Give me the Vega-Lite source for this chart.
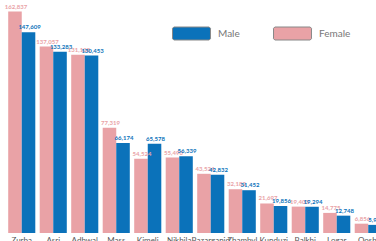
{
  "$schema": "https://vega.github.io/schema/vega-lite/v6.json",
  "width": 378,
  "height": 233,
  "autosize": "none",
  "padding": {"left": 6, "top": 0, "right": 0, "bottom": 8},
  "background": "white",
  "config": {"view": {"stroke": null}, "font": "Lato"},
  "data": {"values": [
    {"region": "Zurba", "sex": "Female", "count": 162837},
    {"region": "Zurba", "sex": "Male", "count": 147609},
    {"region": "Asri", "sex": "Female", "count": 137057},
    {"region": "Asri", "sex": "Male", "count": 133283},
    {"region": "Adhwal", "sex": "Female", "count": 131108},
    {"region": "Adhwal", "sex": "Male", "count": 130453},
    {"region": "Mass", "sex": "Female", "count": 77319},
    {"region": "Mass", "sex": "Male", "count": 66174},
    {"region": "Kimeli", "sex": "Female", "count": 54524},
    {"region": "Kimeli", "sex": "Male", "count": 65578},
    {"region": "Nikhila", "sex": "Female", "count": 55490},
    {"region": "Nikhila", "sex": "Male", "count": 56339},
    {"region": "Bazarganid", "sex": "Female", "count": 43524},
    {"region": "Bazarganid", "sex": "Male", "count": 42832},
    {"region": "Zhambyl", "sex": "Female", "count": 32182},
    {"region": "Zhambyl", "sex": "Male", "count": 31452},
    {"region": "Kunduzi", "sex": "Female", "count": 21697},
    {"region": "Kunduzi", "sex": "Male", "count": 19856},
    {"region": "Balkhi", "sex": "Female", "count": 19403},
    {"region": "Balkhi", "sex": "Male", "count": 19294},
    {"region": "Logar", "sex": "Female", "count": 14775},
    {"region": "Logar", "sex": "Male", "count": 12748},
    {"region": "Qoshi", "sex": "Female", "count": 6856},
    {"region": "Qoshi", "sex": "Male", "count": 5972}
  ]},
  "encoding": {
    "x": {"field": "region", "type": "nominal", "sort": null,
      "scale": {"paddingInner": 0.14, "paddingOuter": 0.07},
      "axis": {"title": null, "domain": false, "ticks": false, "labelAngle": 0, "labelFontSize": 8, "labelColor": "#555555", "labelPadding": 3}},
    "xOffset": {"field": "sex", "type": "nominal", "scale": {"domain": ["Female", "Male"], "paddingInner": 0}},
    "y": {"field": "count", "type": "quantitative", "scale": {"domain": [0, 171300], "nice": false}, "axis": null}
  },
  "layer": [
    {
      "mark": {"type": "bar"},
      "encoding": {
        "color": {"field": "sex", "type": "nominal",
          "scale": {"domain": ["Male", "Female"], "range": ["#0b72ba", "#e9a2a6"]},
          "legend": {"title": null, "orient": "none", "legendX": 172, "legendY": 20, "direction": "horizontal",
            "symbolType": "M-1.36,-0.5L1.36,-0.5L1.46,-0.4L1.46,0.4L1.36,0.5L-1.36,0.5L-1.46,0.4L-1.46,-0.4Z",
            "symbolSize": 676, "symbolStrokeColor": "#888888", "symbolStrokeWidth": 1, "symbolOpacity": 1,
            "labelOffset": 13, "labelFontSize": 10, "labelColor": "#777777", "columnPadding": 31, "padding": 0}}
      }
    },
    {
      "mark": {"type": "text", "baseline": "bottom", "dy": -2, "dx": 1, "fontSize": 6, "fontWeight": "bold"},
      "encoding": {
        "text": {"field": "count", "type": "quantitative", "format": ","},
        "color": {"condition": {"test": "datum.sex === 'Male'", "value": "#0b72ba"}, "value": "#e9a2a6"}
      }
    }
  ]
}
